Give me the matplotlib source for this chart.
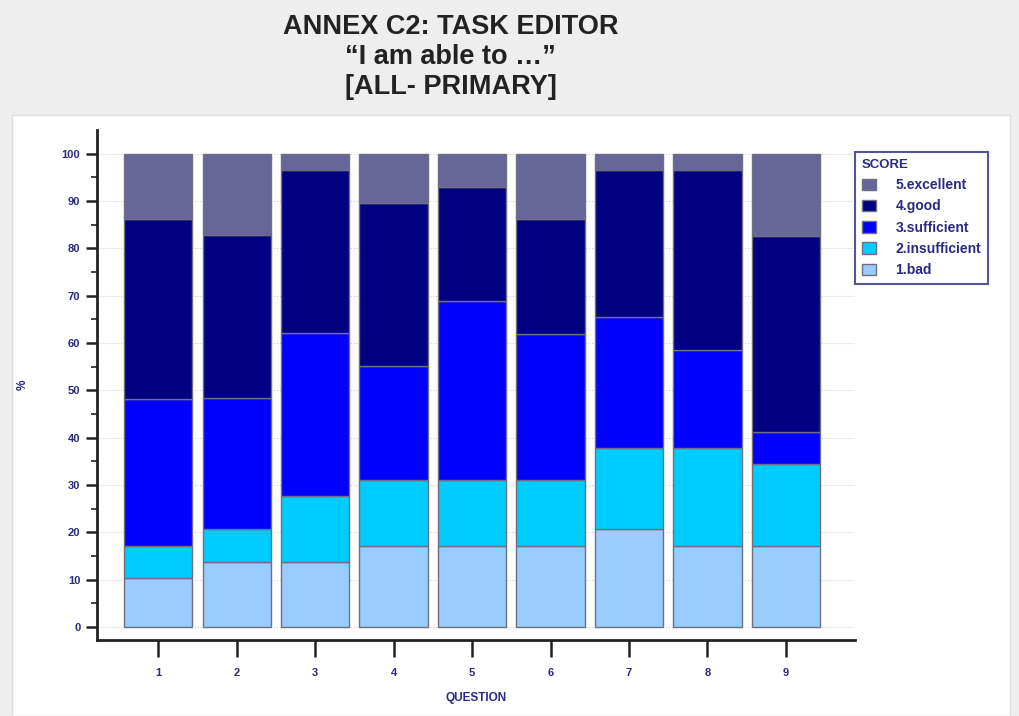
import matplotlib.pyplot as plt
import numpy as np
from matplotlib.patches import Rectangle

plt.rcParams['font.family'] = ['Liberation Sans', 'DejaVu Sans']

# DATA (percent of answers, n=29)
questions = ['1', '2', '3', '4', '5', '6', '7', '8', '9']
bad = [10.3, 13.8, 13.8, 17.2, 17.2, 17.2, 20.7, 17.2, 17.2]
insufficient = [6.9, 6.9, 13.8, 13.8, 13.8, 13.8, 17.2, 20.7, 17.2]
sufficient = [31.0, 27.6, 34.5, 24.1, 37.9, 31.0, 27.6, 20.7, 6.9]
good = [37.9, 34.5, 34.5, 34.5, 24.1, 24.1, 31.0, 37.9, 41.4]
excellent = [13.8, 17.2, 3.4, 10.3, 6.9, 13.8, 3.4, 3.4, 17.2]

series = [bad, insufficient, sufficient, good, excellent]
names = ['1.bad', '2.insufficient', '3.sufficient', '4.good', '5.excellent']
colors = ['#99ccff', '#00ccff', '#0000ff', '#000080', '#666699']
txt_col = '#2a2a80'

fig = plt.figure(figsize=(10.2, 7.16), dpi=100, facecolor='#eeeeee')

# white panel behind the chart
fig.patches.append(Rectangle((12/1020, 0), 998/1020, 1 - 115/716,
                             transform=fig.transFigure, facecolor='white',
                             edgecolor='#dddddd', lw=1, zorder=0))

fig.text(0.442, 0.981, 'ANNEX C2: TASK EDITOR\n\u201cI am able to \u2026\u201d\n[ALL- PRIMARY]',
         ha='center', va='top', fontsize=19.5, fontweight='bold',
         color='#222222', linespacing=1.2)

ax = fig.add_axes([97/1020, 1 - 640/716, 758/1020, 510/716])
ax.set_zorder(2)
ax.set_facecolor('white')

x = np.arange(1, len(questions) + 1)
bottom = np.zeros(len(questions))
for vals, name, c in zip(series, names, colors):
    ax.bar(x, vals, bottom=bottom, width=0.87, color=c, edgecolor='#6f6f80',
           linewidth=1.0, label=name, zorder=3)
    bottom += np.array(vals)

ax.set_xlim(0.22, 9.88)
ax.set_ylim(-2.75, 105)
ax.set_xticks(x)
ax.set_xticklabels(questions)
ax.set_yticks(np.arange(0, 101, 10))
ax.set_yticks(np.arange(5, 100, 10), minor=True)
ax.yaxis.grid(True, which='major', color='#cccccc', linestyle=':', linewidth=0.8, zorder=0)

for s in ['top', 'right']:
    ax.spines[s].set_visible(False)
for s in ['left', 'bottom']:
    ax.spines[s].set_linewidth(2)
    ax.spines[s].set_color('#222222')

ax.tick_params(axis='y', which='major', length=8, width=1.8, color='#222222',
               labelsize=8, labelcolor=txt_col, pad=4)
ax.tick_params(axis='y', which='minor', length=4, width=1.2, color='#222222')
ax.tick_params(axis='x', length=12, width=1.8, color='#222222',
               labelsize=8, labelcolor=txt_col, pad=8)
for lab in ax.get_xticklabels() + ax.get_yticklabels():
    lab.set_fontweight('bold')

ax.set_xlabel('QUESTION', fontsize=8.5, fontweight='bold', color=txt_col, labelpad=10)
ax.set_ylabel('%', fontsize=8.5, fontweight='bold', color=txt_col, labelpad=24)

h, l = ax.get_legend_handles_labels()
leg = ax.legend(h[::-1], l[::-1], title='SCORE', loc='upper left',
                bbox_to_anchor=(855/1020, 1 - 152/716), bbox_transform=fig.transFigure,
                frameon=True, fancybox=False, fontsize=10, handlelength=1.0,
                handleheight=0.9, labelspacing=0.52, borderpad=0.5,
                handletextpad=1.4, borderaxespad=0, alignment='left')
leg.get_frame().set_edgecolor('#2a2a80')
leg.get_frame().set_linewidth(1.5)
leg.get_title().set_fontweight('bold')
leg.get_title().set_fontsize(9.5)
leg.get_title().set_color(txt_col)
for t in leg.get_texts():
    t.set_color(txt_col)
    t.set_fontweight('bold')

fig.savefig('out.png', dpi=100, facecolor=fig.get_facecolor())
